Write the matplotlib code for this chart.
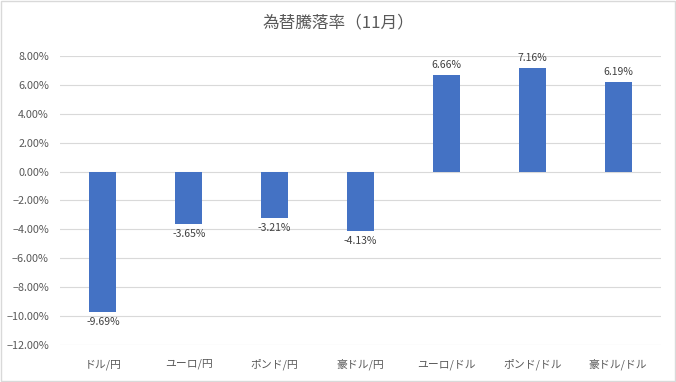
import numpy as np
import matplotlib.pyplot as plt
from matplotlib.ticker import PercentFormatter

plt.rcParams['font.family'] = ['Noto Sans CJK JP', 'DejaVu Sans']

# data
pairs = ['ドル/円', 'ユーロ/円', 'ポンド/円', '豪ドル/円', 'ユーロ/ドル', 'ポンド/ドル', '豪ドル/ドル']
rates = [-9.69, -3.65, -3.21, -4.13, 6.66, 7.16, 6.19]
title = '為替騰落率（11月）'

text_col = '#595959'
bar_col = '#4472C4'

fig = plt.figure(figsize=(6.76, 3.82), dpi=100)
ax = fig.add_axes([60 / 676, 37 / 382, 601 / 676, 289 / 382])

x = np.arange(len(pairs))
ax.bar(x, rates, width=0.315, color=bar_col, zorder=3)

for xi, v in zip(x, rates):
    if v >= 0:
        ax.text(xi, v + 0.35, f'{v:.2f}%', ha='center', va='bottom', fontsize=7.5, color='#404040')
    else:
        ax.text(xi, v - 0.35, f'{v:.2f}%', ha='center', va='top', fontsize=7.5, color='#404040')

ax.set_xlim(-0.5, len(pairs) - 0.5)
ax.set_ylim(-12, 8)
ax.set_yticks(np.arange(-12, 9, 2))
ax.yaxis.set_major_formatter(PercentFormatter(decimals=2))
ax.set_xticks(x)
ax.set_xticklabels(pairs)
ax.grid(axis='y', color='#d9d9d9', linewidth=0.8, zorder=0)
for s in ax.spines.values():
    s.set_visible(False)
ax.tick_params(length=0, labelsize=7.8, labelcolor=text_col)
ax.tick_params(axis='x', pad=10)
ax.tick_params(axis='y', pad=8)

fig.text(0.5, 1 - 23 / 382, title, ha='center', va='center', fontsize=12, color=text_col)

# chart frame
fig.patches.append(plt.Rectangle((0.001, 0.002), 0.997, 0.995, transform=fig.transFigure,
                                 fill=False, edgecolor='#d9d9d9', linewidth=1))

fig.savefig('out.png', dpi=100)
